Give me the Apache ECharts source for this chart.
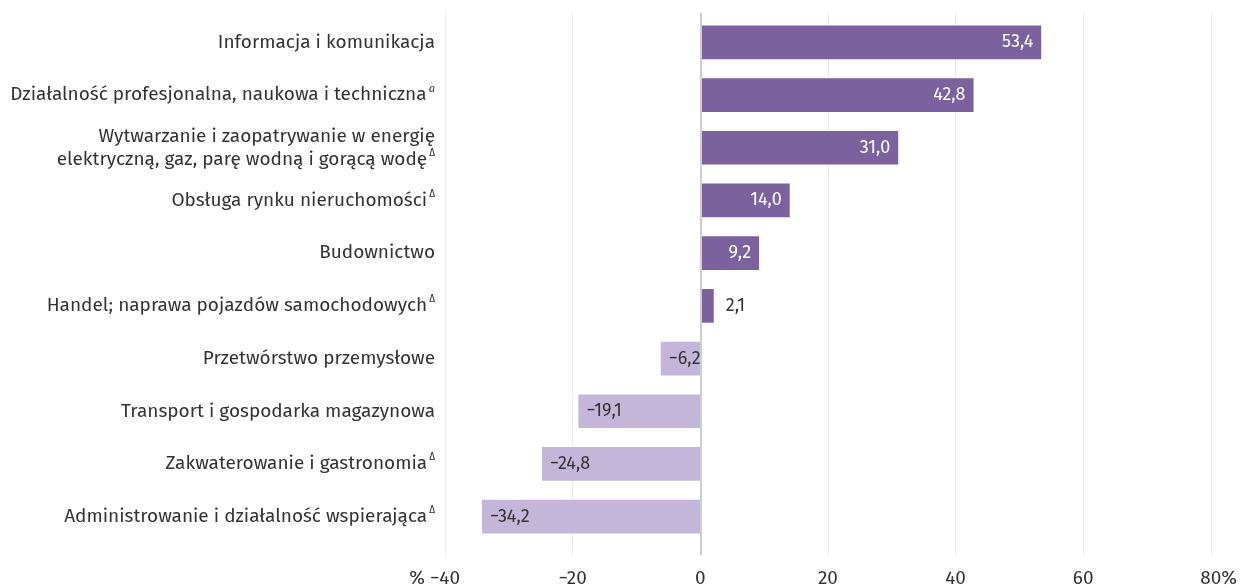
<!DOCTYPE html>
<html><head><meta charset="utf-8">
<script src="https://cdn.jsdelivr.net/npm/echarts@6/dist/echarts.min.js"></script>
<style>html,body{margin:0;padding:0;background:#fff}#c{width:1240px;height:588px}</style>
</head><body><div id="c"></div>
<script>
const categories = [
  "Informacja i komunikacja",
  "Działalność profesjonalna, naukowa i techniczna",
  "Wytwarzanie i zaopatrywanie w energię\nelektryczną, gaz, parę wodną i gorącą wodę",
  "Obsługa rynku nieruchomości",
  "Budownictwo",
  "Handel; naprawa pojazdów samochodowych",
  "Przetwórstwo przemysłowe",
  "Transport i gospodarka magazynowa",
  "Zakwaterowanie i gastronomia",
  "Administrowanie i działalność wspierająca"
];
const notes = ["", "a", "Δ", "Δ", "", "Δ", "", "", "Δ", "Δ"];
const values = [53.4, 42.8, 31.0, 14.0, 9.2, 2.1, -6.2, -19.1, -24.8, -34.2];
const xTicks = [-40, -20, 0, 20, 40, 60, 80];

const FONT = "'Fira Sans','Noto Sans',sans-serif";
const fmt = v => (v < 0 ? '−' : '') + Math.abs(v).toFixed(1).replace('.', ',');

const data = values.map((v, i) => {
  let label;
  if (v >= 5) label = {position: 'insideRight', color: '#fff', distance: 8};
  else if (v >= 0) label = {position: 'right', color: '#333', distance: 12};
  else label = {position: 'insideLeft', color: '#333', distance: 8};
  return {value: v, itemStyle: {color: v >= 0 ? '#7b629f' : '#c3b6d9'}, label};
});

const xMin = xTicks[0], xMax = xTicks[xTicks.length - 1];

const chart = echarts.init(document.getElementById('c'));
chart.setOption({
  animation: false,
  grid: [
    {left: 445, right: 29, top: 16, bottom: 45},
    {left: 445, right: 29, top: 13, bottom: 31}
  ],
  xAxis: [
    {
      type: 'value', gridIndex: 0, min: xMin, max: xMax, interval: 20,
      axisLine: {show: false}, axisTick: {show: false},
      splitLine: {show: false}, axisLabel: {show: false}
    },
    {
      type: 'value', gridIndex: 1, min: xMin, max: xMax, interval: 20,
      axisLine: {show: false}, axisTick: {show: false},
      splitLine: {lineStyle: {color: '#ececec', width: 1}},
      axisLabel: {
        fontFamily: FONT, fontSize: 19, color: '#333', margin: 14,
        formatter: v => {
          const s = (v < 0 ? '−' : '') + Math.abs(v);
          if (v === xMin) return '% ' + s + '{h|% }';
          if (v === xMax) return '{h|%}' + s + '%';
          return s;
        },
        rich: {h: {color: 'rgba(0,0,0,0)', fontSize: 19, fontFamily: FONT}}
      }
    }
  ],
  yAxis: [
    {
      type: 'category', gridIndex: 0, data: categories, inverse: true,
      axisLine: {show: false}, axisTick: {show: false},
      axisLabel: {
        margin: 10, color: '#333', fontFamily: FONT, fontSize: 19, lineHeight: 23,
        formatter: (val, idx) => {
          const n = notes[idx];
          if (!n) return val;
          return val + (n === 'a' ? '{s|\u2009a}' : '{d|\u2009Δ}');
        },
        rich: {
          s: {fontSize: 11, color: '#333', fontFamily: FONT, verticalAlign: 'top', lineHeight: 13, fontStyle: 'italic'},
          d: {fontSize: 10, color: '#333', fontFamily: FONT, verticalAlign: 'top', lineHeight: 13}
        }
      }
    },
    {type: 'value', gridIndex: 1, show: false, min: 0, max: 1}
  ],
  series: [
    {
      type: 'bar', xAxisIndex: 0, yAxisIndex: 0, data, barCategoryGap: '36%',
      label: {show: true, formatter: p => fmt(p.value), fontFamily: FONT, fontSize: 18}
    },
    {
      type: 'line', xAxisIndex: 1, yAxisIndex: 1, data: [], silent: true,
      markLine: {
        silent: true, symbol: 'none', label: {show: false},
        lineStyle: {color: '#cfcfcf', width: 2, type: 'solid'},
        data: [{xAxis: 0}]
      }
    }
  ]
});
</script></body></html>
